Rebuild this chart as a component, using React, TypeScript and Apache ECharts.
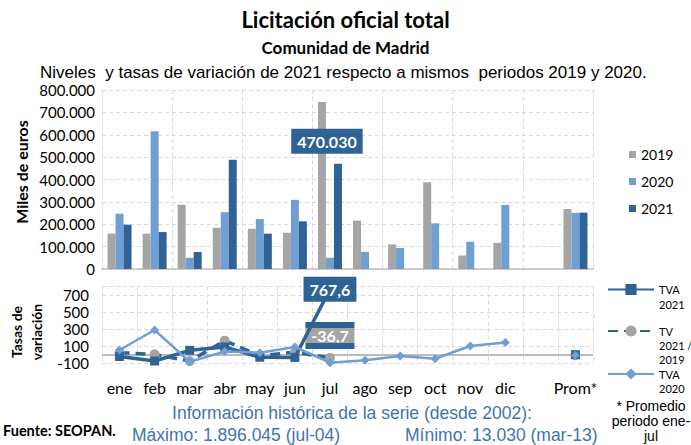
import React, { useEffect, useRef } from "react";
import * as echarts from "echarts";

const months = ["ene", "feb", "mar", "abr", "may", "jun", "jul", "ago", "sep", "oct", "nov", "dic", "", "Prom*"];
const v2019 = [158000, 158000, 287000, 184000, 180000, 162000, 746000, 216000, 110000, 388000, 60000, 117000, null, 268000];
const v2020 = [247000, 616000, 50000, 254000, 223000, 309000, 50000, 77000, 94000, 204000, 122000, 286000, null, 251000];
const v2021 = [198000, 165000, 76000, 488000, 158000, 213000, 470030, null, null, null, null, null, null, 252000];
const tva2021 = [-20, -73, 52, 92, -29, -31, 767.6, null, null, null, null, null, null, 1];
const tv2119 = [25, 5, -74, 165, -12, 31, -36.7, null, null, null, null, null, null, -6];
const tva2020 = [56, 290, -83, 38, 24, 91, -93, -64, -15, -47, 103, 144, null, -7];

const C19 = "#a5a5a5";
const C20 = "#6f9fd3";
const C21 = "#2f6396";
const GRID = "#d9d9d9";
const FONT = "Lato";
const ARIAL = "Liberation Sans";

const fmtThousands = (v: number) => String(v).replace(/\B(?=(\d{3})+(?!\d))/g, ".");

export default function App() {
  const ref = useRef<HTMLDivElement>(null);
  useEffect(() => {
    if (!ref.current) return;
    const chart = echarts.init(ref.current, null, { renderer: "svg" });
    const labelBox = {
      backgroundColor: C21,
      color: "#fff",
      fontWeight: "bold" as const,
      fontSize: 16,
      fontFamily: FONT,
    };
    const d2021 = v2021.map((v, i) =>
      i === 6
        ? {
            value: v,
            label: {
              show: true,
              position: "top",
              distance: 10,
              offset: [-11, 0],
              formatter: "470.030",
              padding: [5, 6, 4, 6],
              ...labelBox,
            },
          }
        : v
    );
    const dTva21 = tva2021.map((v, i) =>
      i === 6
        ? {
            value: v,
            label: {
              show: true,
              position: "inside",
              formatter: "767,6",
              padding: [5, 6, 4, 6],
              ...labelBox,
            },
          }
        : v
    );
    const band = { backgroundColor: C21, width: 49, height: 6, lineHeight: 6, fontSize: 4, color: C21, align: "center" };
    const dTv = tv2119.map((v, i) =>
      i === 6
        ? {
            value: v,
            label: {
              show: true,
              position: "top",
              distance: 4,
              formatter: "{d| }\n{g|-36,7}\n{d| }",
              align: "center",
              rich: {
                d: band,
                g: {
                  backgroundColor: C19,
                  color: "#fff",
                  fontWeight: "bold",
                  fontSize: 16,
                  fontFamily: FONT,
                  width: 49,
                  height: 15,
                  lineHeight: 15,
                  align: "center",
                },
              },
            },
          }
        : v
    );
    const lineLegend = (name: string, text: string, top: number, lh: number) => ({
      data: [name],
      orient: "vertical",
      left: 607,
      top,
      padding: 0,
      itemWidth: 46,
      itemHeight: 14,
      formatter: () => text,
      textStyle: { fontFamily: FONT, fontSize: 11, color: "#000", lineHeight: lh },
    });
    chart.setOption({
      animation: false,
      textStyle: { fontFamily: FONT },
      title: [
        { text: "Licitación oficial total", left: "center", top: 8, padding: 0, textStyle: { fontFamily: FONT, fontSize: 22, fontWeight: "bold", color: "#000" } },
        { text: "Comunidad de Madrid", left: "center", top: 39, padding: 0, textStyle: { fontFamily: FONT, fontSize: 17, fontWeight: "bold", color: "#000" } },
        { text: "Niveles  y tasas de variación de 2021 respecto a mismos  periodos 2019 y 2020.", left: 40, top: 64, padding: 0, textStyle: { fontFamily: ARIAL, fontSize: 17, fontWeight: "normal", color: "#000" } },
      ],
      legend: [
        {
          data: ["2019", "2020", "2021"],
          orient: "vertical",
          left: 629,
          top: 146,
          padding: 0,
          icon: "rect",
          itemWidth: 7,
          itemHeight: 7,
          itemGap: 10,
          textStyle: { fontFamily: FONT, fontSize: 14, color: "#000", lineHeight: 17 },
        },
        lineLegend("TVA 2021", "\nTVA\n2021", 267, 15),
        lineLegend("TV 2021 / 2019", "\n\nTV\n2021 /\n2019", 296, 14),
        lineLegend("TVA 2020", "\nTVA\n2020", 353, 14),
      ],
      grid: [
        { left: 102, width: 491, top: 90, height: 179 },
        { left: 102, width: 491, top: 286.5, height: 76.8 },
      ],
      xAxis: [
        {
          type: "category",
          gridIndex: 0,
          data: months,
          axisLabel: { show: false },
          axisTick: { show: false },
          axisLine: { lineStyle: { color: "#bfbfbf", width: 1.5 } },
          splitLine: { show: true, lineStyle: { color: GRID, type: [4, 3] } },
        },
        {
          type: "category",
          gridIndex: 1,
          data: months,
          axisLabel: { interval: 0, margin: 16, fontSize: 16, color: "#000", fontFamily: FONT },
          axisTick: { show: false },
          axisLine: { show: false, onZero: false },
          splitLine: { show: true, lineStyle: { color: GRID, type: [4, 3] } },
        },
      ],
      yAxis: [
        {
          type: "value",
          gridIndex: 0,
          min: 0,
          max: 800000,
          interval: 100000,
          axisLabel: { formatter: fmtThousands, fontSize: 15, color: "#000", margin: 7, fontFamily: FONT },
          axisLine: { show: false },
          axisTick: { show: false },
          splitLine: { lineStyle: { color: GRID, type: [4, 3] } },
        },
        {
          type: "value",
          gridIndex: 1,
          min: -100,
          max: 800,
          interval: 200,
          axisLabel: { fontSize: 15, color: "#000", margin: 13, showMaxLabel: false, fontFamily: FONT },
          axisLine: { show: false },
          axisTick: { show: false },
          splitLine: { lineStyle: { color: GRID, type: [4, 3] } },
        },
      ],
      series: [
        { name: "2019", type: "bar", xAxisIndex: 0, yAxisIndex: 0, data: v2019, barWidth: 8, barGap: "0%", itemStyle: { color: C19 } },
        { name: "2020", type: "bar", xAxisIndex: 0, yAxisIndex: 0, data: v2020, barWidth: 8, barGap: "0%", itemStyle: { color: C20 } },
        { name: "2021", type: "bar", xAxisIndex: 0, yAxisIndex: 0, data: d2021, barWidth: 8, barGap: "0%", itemStyle: { color: C21 } },
        {
          name: "TVA 2021",
          type: "line",
          xAxisIndex: 1,
          yAxisIndex: 1,
          data: dTva21,
          symbol: "rect",
          symbolSize: 9,
          showAllSymbol: true,
          itemStyle: { color: C21 },
          lineStyle: { color: C21, width: 3.5 },
          z: 4,
          markLine: {
            silent: true,
            symbol: "none",
            label: { show: false },
            lineStyle: { color: "#a6a6a6", width: 1.5, type: "solid" },
            data: [{ yAxis: 0 }],
            z: 1,
          },
        },
        {
          name: "TV 2021 / 2019",
          type: "line",
          xAxisIndex: 1,
          yAxisIndex: 1,
          data: dTv,
          symbol: "circle",
          symbolSize: 10,
          showAllSymbol: true,
          itemStyle: { color: C19 },
          lineStyle: { color: C21, width: 3.5, type: [10, 6] },
          z: 3,
        },
        {
          name: "TVA 2020",
          type: "line",
          xAxisIndex: 1,
          yAxisIndex: 1,
          data: tva2020,
          symbol: "diamond",
          symbolSize: 9,
          showAllSymbol: true,
          itemStyle: { color: C20 },
          lineStyle: { color: C20, width: 2.5 },
          z: 5,
        },
      ],
      graphic: [
        { type: "text", x: 21, y: 172, rotation: Math.PI / 2, style: { text: "Miles de euros", fontFamily: FONT, fontSize: 16, fontWeight: "bold", fill: "#000", align: "center", verticalAlign: "middle" } },
        { type: "text", x: 26, y: 332, rotation: Math.PI / 2, style: { text: "Tasas de\nvariación", fontFamily: FONT, fontSize: 14, fontWeight: "bold", lineHeight: 20, fill: "#000", align: "center", verticalAlign: "middle" } },
        { type: "text", x: 352, y: 413, style: { text: "Información histórica de la serie (desde 2002):", fontFamily: ARIAL, fontSize: 17.5, fill: "#3e74b0", align: "center", verticalAlign: "middle" } },
        { type: "text", x: 132, y: 435, style: { text: "Máximo: 1.896.045 (jul-04)", fontFamily: ARIAL, fontSize: 17.5, fill: "#3e74b0", align: "left", verticalAlign: "middle" } },
        { type: "text", x: 405, y: 435, style: { text: "Mínimo: 13.030 (mar-13)", fontFamily: ARIAL, fontSize: 17.5, fill: "#3e74b0", align: "left", verticalAlign: "middle" } },
        { type: "text", x: 3, y: 430, style: { text: "Fuente: SEOPAN.", fontFamily: FONT, fontSize: 14.5, fontWeight: "bold", fill: "#000", align: "left", verticalAlign: "middle" } },
        { type: "text", x: 651, y: 421, style: { text: "* Promedio\nperiodo ene-\njul", fontFamily: ARIAL, fontSize: 14, lineHeight: 15, fill: "#000", align: "center", verticalAlign: "middle" } },
      ],
    });
    return () => chart.dispose();
  }, []);
  return <div ref={ref} style={{ width: 691, height: 445, position: "absolute", left: 0, top: 0 }} />;
}
